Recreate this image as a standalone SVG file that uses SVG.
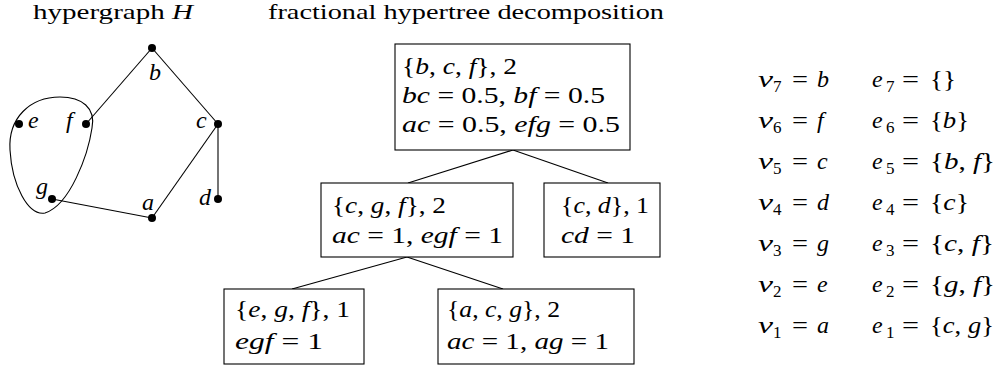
<svg xmlns="http://www.w3.org/2000/svg" width="997" height="369" viewBox="0 0 997 369">
<style>
text{font-family:"Liberation Serif","Times New Roman",serif;fill:#000;font-size:24px}
.i{font-style:italic}
.ttl{font-size:22px}
.sub{font-size:17px}
.box{fill:#fff;stroke:#000;stroke-width:1.1}
.ln{stroke:#000;stroke-width:1.1;fill:none}
.dot{fill:#000}
</style>
<rect width="997" height="369" fill="#fff"/>
<text class="ttl" x="33" y="19" textLength="160" lengthAdjust="spacingAndGlyphs">hypergraph <tspan class="i">H</tspan></text>
<text class="ttl" x="268" y="19" textLength="396" lengthAdjust="spacingAndGlyphs">fractional hypertree decomposition</text>

<g id="hypergraph-connectors">
<line class="ln" x1="152" y1="48" x2="86" y2="124"/>
<line class="ln" x1="152" y1="48" x2="218" y2="124"/>
<line class="ln" x1="218" y1="124" x2="152" y2="218"/>
<line class="ln" x1="218" y1="124" x2="218" y2="199"/>
<line class="ln" x1="52" y1="199" x2="152" y2="218"/>
</g>
<g id="hyperedge-efg">
<path class="ln" d="M 60 97 C 82 97, 96 108, 92 128 C 88 155, 70 205, 45 213 C 28 216, 12 185, 10 150 C 8 118, 30 97, 60 97 Z"/>
</g>
<g id="v-a"><circle class="dot" cx="152" cy="218" r="4"/><text class="i" x="142" y="210">a</text></g>
<g id="v-b"><circle class="dot" cx="152" cy="48" r="4"/><text class="i" x="149" y="80">b</text></g>
<g id="v-c"><circle class="dot" cx="218" cy="124" r="4"/><text class="i" x="196" y="128">c</text></g>
<g id="v-d"><circle class="dot" cx="218" cy="199" r="4"/><text class="i" x="199" y="205">d</text></g>
<g id="v-e"><circle class="dot" cx="19" cy="124" r="4"/><text class="i" x="28" y="128">e</text></g>
<g id="v-f"><circle class="dot" cx="86" cy="124" r="4"/><text class="i" x="66" y="128">f</text></g>
<g id="v-g"><circle class="dot" cx="52" cy="199" r="4"/><text class="i" x="36" y="194">g</text></g>

<g id="tree-connectors">
<line class="ln" x1="513" y1="150" x2="408" y2="183"/>
<line class="ln" x1="513" y1="150" x2="608" y2="183"/>
<line class="ln" x1="407" y1="257" x2="292" y2="289"/>
<line class="ln" x1="407" y1="257" x2="503" y2="289"/>
</g>

<g id="t-bcf">
<rect class="box" x="395" y="44" width="235" height="106"/>
<text x="402" y="74" textLength="115" lengthAdjust="spacingAndGlyphs">{<tspan class="i">b</tspan>, <tspan class="i">c</tspan>, <tspan class="i">f</tspan>}, 2</text>
<text x="402" y="103" textLength="203" lengthAdjust="spacingAndGlyphs"><tspan class="i">bc</tspan> = 0.5, <tspan class="i">bf</tspan> = 0.5</text>
<text x="402" y="132" textLength="218" lengthAdjust="spacingAndGlyphs"><tspan class="i">ac</tspan> = 0.5, <tspan class="i">efg</tspan> = 0.5</text>
</g>
<g id="t-cgf">
<rect class="box" x="321" y="183" width="192" height="74"/>
<text x="332" y="213" textLength="114" lengthAdjust="spacingAndGlyphs">{<tspan class="i">c</tspan>, <tspan class="i">g</tspan>, <tspan class="i">f</tspan>}, 2</text>
<text x="332" y="243" textLength="171" lengthAdjust="spacingAndGlyphs"><tspan class="i">ac</tspan> = 1, <tspan class="i">egf</tspan> = 1</text>
</g>
<g id="t-cd">
<rect class="box" x="544" y="183" width="116" height="74"/>
<text x="561" y="213" textLength="88" lengthAdjust="spacingAndGlyphs">{<tspan class="i">c</tspan>, <tspan class="i">d</tspan>}, 1</text>
<text x="561" y="243" textLength="74" lengthAdjust="spacingAndGlyphs"><tspan class="i">cd</tspan> = 1</text>
</g>
<g id="t-egf">
<rect class="box" x="224" y="289" width="140" height="75"/>
<text x="235" y="317" textLength="115" lengthAdjust="spacingAndGlyphs">{<tspan class="i">e</tspan>, <tspan class="i">g</tspan>, <tspan class="i">f</tspan>}, 1</text>
<text x="235" y="349" textLength="88" lengthAdjust="spacingAndGlyphs"><tspan class="i">egf</tspan> = 1</text>
</g>
<g id="t-acg">
<rect class="box" x="438" y="289" width="196" height="75"/>
<text x="447" y="317" textLength="113" lengthAdjust="spacingAndGlyphs">{<tspan class="i">a</tspan>, <tspan class="i">c</tspan>, <tspan class="i">g</tspan>}, 2</text>
<text x="447" y="349" textLength="162" lengthAdjust="spacingAndGlyphs"><tspan class="i">ac</tspan> = 1, <tspan class="i">ag</tspan> = 1</text>
</g>

<g id="ordering">
<g id="row7"><text class="i" x="758" y="87" textLength="15" lengthAdjust="spacingAndGlyphs">v</text><text class="sub" x="773" y="92">7</text><text x="792" y="87" textLength="16" lengthAdjust="spacingAndGlyphs">=</text><text class="i" x="817" y="87">b</text>
<text class="i" x="872" y="87">e</text><text class="sub" x="886" y="92">7</text><text x="902" y="87" textLength="17" lengthAdjust="spacingAndGlyphs">=</text><text x="930" y="87" textLength="26" lengthAdjust="spacingAndGlyphs">{}</text></g>
<g id="row6"><text class="i" x="758" y="128" textLength="15" lengthAdjust="spacingAndGlyphs">v</text><text class="sub" x="773" y="133">6</text><text x="792" y="128" textLength="16" lengthAdjust="spacingAndGlyphs">=</text><text class="i" x="817" y="128">f</text>
<text class="i" x="872" y="128">e</text><text class="sub" x="886" y="133">6</text><text x="902" y="128" textLength="17" lengthAdjust="spacingAndGlyphs">=</text><text x="930" y="128" textLength="39" lengthAdjust="spacingAndGlyphs">{<tspan class="i">b</tspan>}</text></g>
<g id="row5"><text class="i" x="758" y="169" textLength="15" lengthAdjust="spacingAndGlyphs">v</text><text class="sub" x="773" y="174">5</text><text x="792" y="169" textLength="16" lengthAdjust="spacingAndGlyphs">=</text><text class="i" x="817" y="169">c</text>
<text class="i" x="872" y="169">e</text><text class="sub" x="886" y="174">5</text><text x="902" y="169" textLength="17" lengthAdjust="spacingAndGlyphs">=</text><text x="930" y="169" textLength="65" lengthAdjust="spacingAndGlyphs">{<tspan class="i">b</tspan>, <tspan class="i">f</tspan>}</text></g>
<g id="row4"><text class="i" x="758" y="210" textLength="15" lengthAdjust="spacingAndGlyphs">v</text><text class="sub" x="773" y="215">4</text><text x="792" y="210" textLength="16" lengthAdjust="spacingAndGlyphs">=</text><text class="i" x="817" y="210">d</text>
<text class="i" x="872" y="210">e</text><text class="sub" x="886" y="215">4</text><text x="902" y="210" textLength="17" lengthAdjust="spacingAndGlyphs">=</text><text x="930" y="210" textLength="39" lengthAdjust="spacingAndGlyphs">{<tspan class="i">c</tspan>}</text></g>
<g id="row3"><text class="i" x="758" y="251" textLength="15" lengthAdjust="spacingAndGlyphs">v</text><text class="sub" x="773" y="256">3</text><text x="792" y="251" textLength="16" lengthAdjust="spacingAndGlyphs">=</text><text class="i" x="817" y="251">g</text>
<text class="i" x="872" y="251">e</text><text class="sub" x="886" y="256">3</text><text x="902" y="251" textLength="17" lengthAdjust="spacingAndGlyphs">=</text><text x="930" y="251" textLength="64" lengthAdjust="spacingAndGlyphs">{<tspan class="i">c</tspan>, <tspan class="i">f</tspan>}</text></g>
<g id="row2"><text class="i" x="758" y="292" textLength="15" lengthAdjust="spacingAndGlyphs">v</text><text class="sub" x="773" y="297">2</text><text x="792" y="292" textLength="16" lengthAdjust="spacingAndGlyphs">=</text><text class="i" x="817" y="292">e</text>
<text class="i" x="872" y="292">e</text><text class="sub" x="886" y="297">2</text><text x="902" y="292" textLength="17" lengthAdjust="spacingAndGlyphs">=</text><text x="930" y="292" textLength="65" lengthAdjust="spacingAndGlyphs">{<tspan class="i">g</tspan>, <tspan class="i">f</tspan>}</text></g>
<g id="row1"><text class="i" x="758" y="333" textLength="15" lengthAdjust="spacingAndGlyphs">v</text><text class="sub" x="773" y="338">1</text><text x="792" y="333" textLength="16" lengthAdjust="spacingAndGlyphs">=</text><text class="i" x="817" y="333">a</text>
<text class="i" x="872" y="333">e</text><text class="sub" x="886" y="338">1</text><text x="902" y="333" textLength="17" lengthAdjust="spacingAndGlyphs">=</text><text x="930" y="333" textLength="64" lengthAdjust="spacingAndGlyphs">{<tspan class="i">c</tspan>, <tspan class="i">g</tspan>}</text></g>
</g>
</svg>
